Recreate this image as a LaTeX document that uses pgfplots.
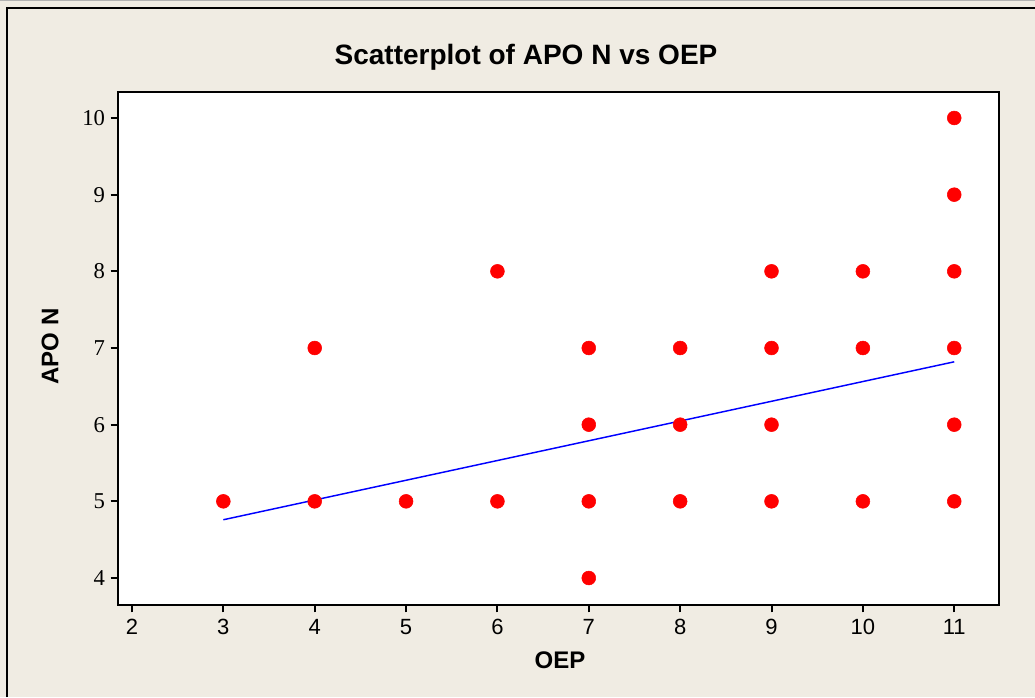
\documentclass[border=0pt]{standalone}
\usepackage{pgfplots}
\pgfplotsset{compat=1.18}
\usepackage{fontspec}
\setmainfont{Liberation Sans}
\newfontfamily\serifnum{Liberation Serif}

\definecolor{bgbeige}{RGB}{240,236,227}
\definecolor{ptred}{RGB}{255,0,0}
\definecolor{fitblue}{RGB}{0,0,255}

\begin{document}
\begin{tikzpicture}
% page background and frame (1px = 0.75pt)
\useasboundingbox (0,0) rectangle (776.25pt,522.75pt);
\fill[bgbeige] (0,0) rectangle (776.25pt,522.75pt);
\draw[gray!60,line width=0.75pt] (0,522.4pt) -- (776.25pt,522.4pt);
\draw[black,line width=1.5pt] (5.6pt,0) -- (5.6pt,517.1pt) -- (776.25pt,517.1pt);

\begin{axis}[
  at={(88.5pt,69pt)}, anchor=south west,
  scale only axis,
  width=660.75pt, height=384.75pt,
  xmin=1.847, xmax=11.49,
  ymin=3.648, ymax=10.339,
  xtick={2,3,...,11}, ytick={4,5,...,10},
  xtick pos=bottom, ytick pos=left,
  tick align=outside,
  major tick length=5.5pt,
  every tick/.style={black,line width=1.5pt},
  axis line style={line width=1.5pt},
  axis background/.style={fill=white},
  /pgf/number format/assume math mode=true,
  xticklabel style={font=\fontsize{16.5}{18}\selectfont, inner sep=0pt, yshift=-5pt},
  yticklabel style={font=\serifnum\fontsize{17}{18}\selectfont, inner sep=0pt, xshift=-4pt},
  clip=false,
]
\addplot[only marks, mark=*, mark size=5.2pt, mark options={fill=ptred, draw=ptred}]
coordinates {
(3,5) (4,5) (4,7) (5,5) (6,5) (6,8)
(7,4) (7,5) (7,6) (7,7)
(8,5) (8,6) (8,7)
(9,5) (9,6) (9,7) (9,8)
(10,5) (10,7) (10,8)
(11,5) (11,6) (11,7) (11,8) (11,9) (11,10)
};
\addplot[fitblue, line width=1.1pt, mark=none] coordinates {(3,4.76) (11,6.82)};
\end{axis}

% title and axis labels
\node[font=\bfseries\fontsize{21}{24}\selectfont] at (394.5pt,480pt) {Scatterplot of APO N vs OEP};
\node[font=\bfseries\fontsize{18}{20}\selectfont] at (420pt,27.75pt) {OEP};
\node[font=\bfseries\fontsize{18}{20}\selectfont, rotate=90] at (37.5pt,262.9pt) {APO N};
\end{tikzpicture}
\end{document}
